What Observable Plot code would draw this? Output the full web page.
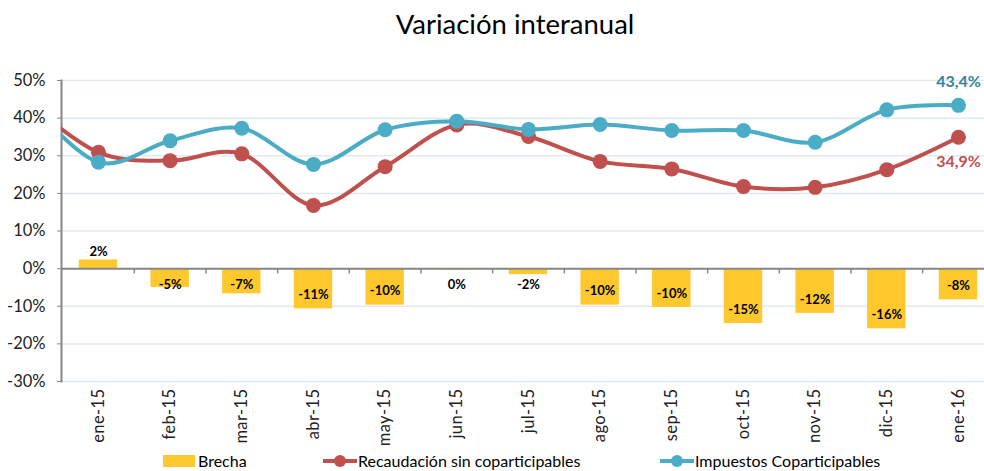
<!DOCTYPE html>
<html><head><meta charset="utf-8">
<script src="https://cdn.jsdelivr.net/npm/d3@7"></script>
<script src="https://cdn.jsdelivr.net/npm/@observablehq/plot@0.6"></script>
<style>
body{margin:0;background:#fff;font-family:Lato, "Open Sans", sans-serif;}
#wrap{position:relative;width:984px;height:471px;overflow:hidden;background:#fff;}
#title{position:absolute;left:0;top:8px;width:1030px;text-align:center;font-size:27.5px;line-height:32px;color:#000;}
#chart{position:absolute;left:0;top:52px;}
#chart g[aria-label="x-axis tick label"] text{letter-spacing:0.4px;}
.lg{position:absolute;top:452px;height:18px;font-size:16px;line-height:18px;color:#000;white-space:nowrap;}
.sw{position:absolute;}
</style></head>
<body>
<div id="wrap">
  <div id="title">Variación interanual</div>
  <div id="chart"></div>
  <div id="legend"></div>
</div>
<script>
const months = ["ene-15","feb-15","mar-15","abr-15","may-15","jun-15","jul-15","ago-15","sep-15","oct-15","nov-15","dic-15","ene-16"];
const recaudacion = [30.9,28.7,30.5,16.8,27.1,38.2,35.1,28.5,26.5,21.8,21.6,26.3,34.9];
const impuestos = [28.3,34.0,37.3,27.7,36.9,39.2,37.0,38.3,36.7,36.7,33.6,42.2,43.4];
const brecha = [2.3,-5.0,-6.7,-10.7,-9.7,-0.35,-1.6,-9.7,-10.3,-14.6,-11.9,-16.0,-8.3];
const prevMonth = "dic-14";
const prevRecaudacion = 44.5;
const prevImpuestos = 45;
const yTicks = [-30,-20,-10,0,10,20,30,40,50];
const seriesNames = ["Brecha","Recaudación sin coparticipables","Impuestos Coparticipables"];
const colors = {brecha:"#FFC92E", rec:"#C0504D", imp:"#4BACC6", impLabel:"#31859C", axis:"#878787", grid:"#e3e9f0"};

const rows = months.map((m,i)=>({i, month:m, rec:recaudacion[i], imp:impuestos[i], br:brecha[i]}));
const lineRows = [{i:-1, month:prevMonth, rec:prevRecaudacion, imp:prevImpuestos}, ...rows];
const last = rows[rows.length-1];
const fmt = v => v.toFixed(1).replace(".", ",") + "%";
const half = 0.268;

const chart = Plot.plot({
  width: 984, height: 400,
  marginLeft: 61, marginRight: 0, marginTop: 28, marginBottom: 71,
  style: {fontFamily: "Lato, 'Open Sans', sans-serif", fontSize: "16px", color: "#222", background: "transparent"},
  x: {domain: [-0.516, 12.363]},
  y: {domain: [-30, 50]},
  marks: [
    Plot.ruleY(yTicks, {stroke: colors.grid, strokeWidth: 1.5}),
    Plot.rect(rows, {x1: d => d.i - half, x2: d => d.i + half, y1: 0, y2: "br", fill: colors.brecha}),
    Plot.ruleY([0], {stroke: colors.axis, strokeWidth: 2}),
    Plot.ruleX(d3.range(0.5, 12, 1), {y1: 0, y2: -1.4, stroke: colors.axis, strokeWidth: 1.5}),
    Plot.frame({anchor: "left", stroke: colors.axis, strokeWidth: 2}),
    Plot.axisY({ticks: yTicks, tickFormat: d => `${d}%`, tickSize: 4, tickPadding: 12, fontSize: 16.5, stroke: colors.axis, fill: "#222", label: null}),
    Plot.axisX({ticks: d3.range(months.length), tickFormat: i => months[i], tickRotate: -90, tickSize: 0, tickPadding: 7, fontSize: 16.5, fill: "#222", label: null}),
    Plot.line(lineRows, {x: "i", y: "rec", stroke: colors.rec, strokeWidth: 4, curve: "cardinal", clip: true}),
    Plot.dot(rows, {x: "i", y: "rec", r: 7.5, fill: colors.rec}),
    Plot.line(lineRows, {x: "i", y: "imp", stroke: colors.imp, strokeWidth: 4, curve: "cardinal", clip: true}),
    Plot.dot(rows, {x: "i", y: "imp", r: 7.5, fill: colors.imp}),
    Plot.text(rows.filter(d => d.br >= 0), {x: "i", y: "br", dy: -8, text: d => `${Math.round(d.br)}%`, fontWeight: "bold", fontSize: 13, fill: "#000"}),
    Plot.text(rows.filter(d => d.br < 0), {x: "i", y: d => Math.min(d.br + 3.7, -4.3), text: d => `${Math.round(d.br)}%`, fontWeight: "bold", fontSize: 13, fill: "#000"}),
    Plot.text([last], {x: "i", y: "imp", dy: -23, text: d => fmt(d.imp), fontWeight: "bold", fontSize: 16, fill: colors.impLabel}),
    Plot.text([last], {x: "i", y: "rec", dy: 25, text: d => fmt(d.rec), fontWeight: "bold", fontSize: 16, fill: colors.rec})
  ]
});
document.getElementById("chart").appendChild(chart);

// legend
const legend = document.getElementById("legend");
const items = [
  {name: seriesNames[0], kind: "box", color: colors.brecha, left: 163},
  {name: seriesNames[1], kind: "line", color: colors.rec, left: 323},
  {name: seriesNames[2], kind: "line", color: colors.imp, left: 660}
];
items.forEach(it => {
  if (it.kind === "box") {
    const s = document.createElement("div");
    s.className = "sw";
    Object.assign(s.style, {left: it.left + "px", top: "455px", width: "32px", height: "12px", background: it.color});
    legend.appendChild(s);
  } else {
    const l = document.createElement("div");
    l.className = "sw";
    Object.assign(l.style, {left: it.left + "px", top: "459px", width: "34px", height: "4px", background: it.color});
    legend.appendChild(l);
    const c = document.createElement("div");
    c.className = "sw";
    Object.assign(c.style, {left: (it.left + 11) + "px", top: "455px", width: "12px", height: "12px", borderRadius: "50%", background: it.color});
    legend.appendChild(c);
  }
  const t = document.createElement("div");
  t.className = "lg";
  t.style.left = (it.left + 35) + "px";
  t.textContent = it.name;
  legend.appendChild(t);
});
</script>
</body></html>
